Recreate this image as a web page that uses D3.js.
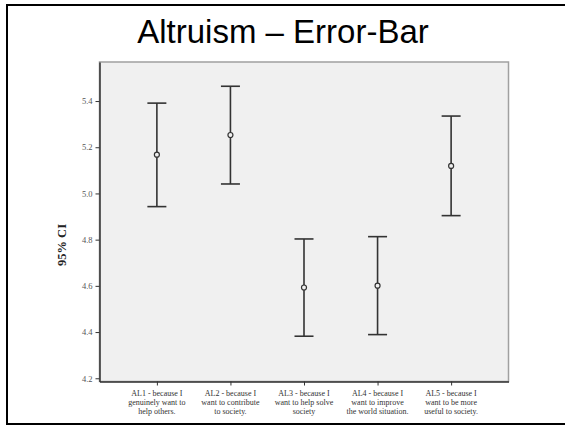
<!DOCTYPE html>
<html>
<head>
  <meta charset="utf-8">
  <title>Altruism – Error-Bar</title>
  <script src="https://cdn.jsdelivr.net/npm/d3@7"></script>
  <style>
    body { margin: 0; background: #fff; }
  </style>
</head>
<body>
  <script>
    // data
    const categories = ["AL1", "AL2", "AL3", "AL4", "AL5"];
    const labelLines = [
      ["AL1 - because I", "genuinely want to", "help others."],
      ["AL2 - because I", "want to contribute", "to society."],
      ["AL3 - because I", "want to help solve", "society"],
      ["AL4 - because I", "want to improve", "the world situation."],
      ["AL5 - because I", "want to be more", "useful to society."]
    ];
    const means = [5.168, 5.253, 4.593, 4.601, 5.119];
    const lower = [4.943, 5.041, 4.382, 4.389, 4.904];
    const upper = [5.391, 5.464, 4.803, 4.813, 5.335];
    const yTicks = [4.2, 4.4, 4.6, 4.8, 5.0, 5.2, 5.4];

    const w = 565, h = 426;
    const plot = { left: 99.5, right: 508.5, top: 62, bottom: 381.5 };

    const svg = d3.select("body").append("svg")
      .attr("width", w)
      .attr("height", h);

    // outer frame
    svg.append("rect")
      .attr("x", 7).attr("y", 5)
      .attr("width", 562).attr("height", 419)
      .attr("fill", "#fff")
      .attr("stroke", "#000")
      .attr("stroke-width", 2);

    // title
    svg.append("text")
      .attr("x", 283).attr("y", 43)
      .attr("text-anchor", "middle")
      .attr("font-family", "Liberation Sans, Arial, sans-serif")
      .attr("font-size", 33)
      .attr("fill", "#000")
      .text("Altruism – Error-Bar");

    const x = d3.scalePoint()
      .domain(categories)
      .range([plot.left, plot.right])
      .padding(0.78);

    const y = d3.scaleLinear()
      .domain([4.186, 5.569])
      .range([plot.bottom, plot.top]);

    // plot background
    svg.append("rect")
      .attr("x", plot.left).attr("y", plot.top)
      .attr("width", plot.right - plot.left)
      .attr("height", plot.bottom - plot.top)
      .attr("fill", "#f0f0f0")
      .attr("stroke", "#a0a0a0")
      .attr("stroke-width", 1.5);

    // axes
    const yAxis = svg.append("g")
      .attr("transform", `translate(${plot.left},0)`)
      .call(d3.axisLeft(y).tickValues(yTicks).tickFormat(d3.format(".1f"))
        .tickSize(4).tickSizeOuter(0).tickPadding(3));
    yAxis.select(".domain").attr("stroke", "#333").attr("stroke-width", 1.5);
    yAxis.selectAll(".tick line").attr("stroke", "#333");
    yAxis.selectAll(".tick text")
      .attr("font-family", "Liberation Serif, Times New Roman, serif")
      .attr("font-size", 8.5)
      .attr("fill", "#555");

    const xAxis = svg.append("g")
      .attr("transform", `translate(0,${plot.bottom})`)
      .call(d3.axisBottom(x).tickSize(4).tickSizeOuter(0).tickFormat(""));
    xAxis.select(".domain").attr("stroke", "#333").attr("stroke-width", 1.5);
    xAxis.selectAll(".tick line").attr("stroke", "#333");

    // x labels, three lines each
    const lab = svg.append("g")
      .attr("font-family", "Liberation Serif, Times New Roman, serif")
      .attr("font-size", 8)
      .attr("fill", "#333")
      .attr("text-anchor", "middle");
    categories.forEach(function (c, i) {
      const t = lab.append("text").attr("x", x(c)).attr("y", 396);
      labelLines[i].forEach(function (s, j) {
        t.append("tspan").attr("x", x(c)).attr("dy", j === 0 ? 0 : 9.2).text(s);
      });
    });

    // y title
    svg.append("text")
      .attr("transform", "translate(66,245) rotate(-90)")
      .attr("text-anchor", "middle")
      .attr("font-family", "Liberation Serif, Times New Roman, serif")
      .attr("font-weight", "bold")
      .attr("font-size", 12.5)
      .attr("fill", "#222")
      .text("95% CI");

    // error bars
    const bars = svg.append("g").selectAll("g")
      .data(categories)
      .enter()
      .append("g")
      .attr("stroke", "#333")
      .attr("stroke-width", 1.6)
      .attr("fill", "none");

    bars.append("line")
      .attr("x1", d => x(d)).attr("x2", d => x(d))
      .attr("y1", (d, i) => y(lower[i])).attr("y2", (d, i) => y(upper[i]));
    bars.append("line")
      .attr("x1", d => x(d) - 9.5).attr("x2", d => x(d) + 9.5)
      .attr("y1", (d, i) => y(upper[i])).attr("y2", (d, i) => y(upper[i]));
    bars.append("line")
      .attr("x1", d => x(d) - 9.5).attr("x2", d => x(d) + 9.5)
      .attr("y1", (d, i) => y(lower[i])).attr("y2", (d, i) => y(lower[i]));
    bars.append("circle")
      .attr("cx", d => x(d))
      .attr("cy", (d, i) => y(means[i]))
      .attr("r", 2.5)
      .attr("fill", "#f0f0f0")
      .attr("stroke-width", 1.2);
  </script>
</body>
</html>
